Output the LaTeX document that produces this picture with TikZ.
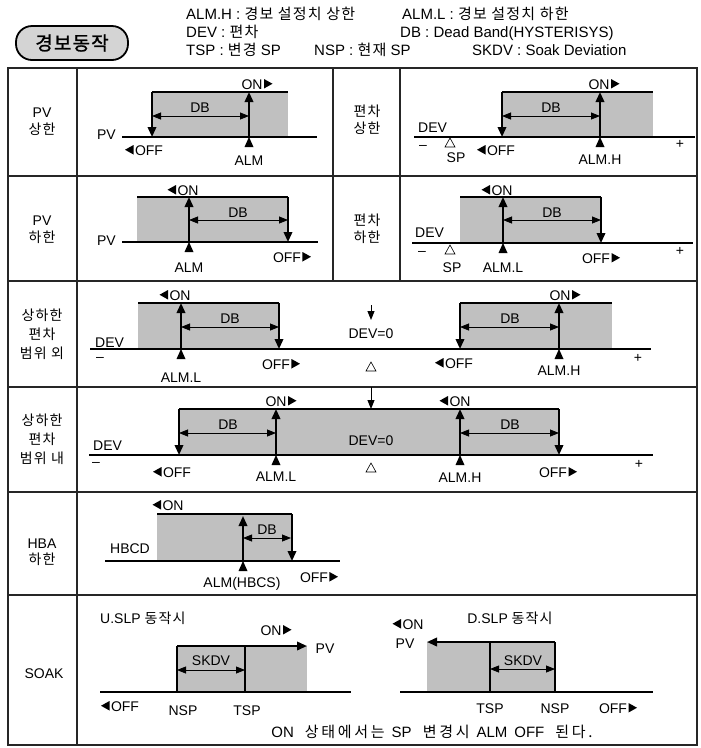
\documentclass[tikz,border=0pt]{standalone}
\usepackage{fontspec}
\setmainfont{Liberation Sans}
\newfontfamily\kr{Noto Sans CJK KR}[LetterSpace=8]
\newfontfamily\krw{Noto Sans CJK KR}[LetterSpace=18]
\newfontfamily\krb{Noto Sans CJK KR}[FakeBold=1.2,LetterSpace=6]
\usetikzlibrary{arrows.meta}
\definecolor{gfill}{RGB}{192,192,192}
\definecolor{pillfill}{RGB}{212,212,212}
\newcommand\myR{\tikz[x=1pt,y=1pt,baseline=0pt]\fill (0,0.5)--(0,10)--(8.5,5.25)--cycle;}
\newcommand\myL{\tikz[x=1pt,y=1pt,baseline=0pt]\fill (8.5,0.5)--(8.5,10)--(0,5.25)--cycle;}
\newcommand\myT{\tikz[x=1pt,y=1pt,baseline=0pt]\draw[line width=0.6pt,line join=miter] (0,0)--(10,0)--(5,9)--cycle;}
\newcommand\mk[2]{\fill (#1,#2) -- ++(-4.5,10) -- ++(9,0) -- cycle;}
\begin{document}
\begin{tikzpicture}[x=1pt,y=-1pt,
  t/.style={inner sep=0pt, text height=10pt, text depth=0pt, font=\fontsize{14}{15}\selectfont},
  h/.style={inner sep=0pt, text height=10pt, text depth=0pt, anchor=west, font=\fontsize{15}{16}\selectfont},
  grid/.style={line width=1.3pt, black!85},
  topl/.style={line width=2pt},
  vd/.style={line width=2pt, -{Triangle[length=10pt,width=8.5pt]}},
  base/.style={line width=1.2pt},
  tbase/.style={line width=2.4pt},
  db/.style={line width=0.8pt, {Triangle[length=9pt,width=7pt]}-{Triangle[length=9pt,width=7pt]}},
  sarr/.style={line width=1pt, -{Triangle[length=9pt,width=7pt]}}]
\useasboundingbox (0,0) rectangle (701,748);
% header
\node[draw, line width=1.8pt, fill=pillfill, rounded corners=16pt, minimum width=112pt, minimum height=34pt, inner sep=0pt, font=\krb\fontsize{19}{19}\selectfont] (pill) at (72,43) {경보동작};
\node[h] (h1a) at (186,14) {ALM.H : {\kr 경보 설정치 상한}};
\node[h] (h1b) at (402,14) {ALM.L : {\kr 경보 설정치 하한}};
\node[h] (h2a) at (186,32) {DEV : {\kr 편차}};
\node[h] (h2b) at (400,32) {DB : Dead Band(HYSTERISYS)};
\node[h] (h3a) at (186,50) {TSP : {\kr 변경} SP};
\node[h] (h3b) at (314,50) {NSP : {\kr 현재} SP};
\node[h] (h3c) at (472,50) {SKDV : Soak Deviation};
% grid
\draw[grid] (8,68) rectangle (697,745);
\draw[grid] (77,68) -- (77,745);
\foreach \yy in {176,281,387,492,595} \draw[grid] (8,\yy) -- (697,\yy);
\draw[grid] (333,68) -- (333,281);
\draw[grid] (400,68) -- (400,281);
% row labels
\node[t] (l1a) at (42,112) {PV};
\node[t] (l1b) at (42,129) {\kr 상한};
\node[t] (l1c) at (367,111) {\kr 편차};
\node[t] (l1d) at (367,128) {\kr 상한};
\node[t] (l2a) at (42,220) {PV};
\node[t] (l2b) at (42,237) {\kr 하한};
\node[t] (l2c) at (367,220) {\kr 편차};
\node[t] (l2d) at (367,237) {\kr 하한};
\node[t] (l3a) at (42,315) {\kr 상하한};
\node[t] (l3b) at (42,334) {\kr 편차};
\node[t] (l3c) at (42,353) {\kr 범위 외};
\node[t] (l4a) at (42,420) {\kr 상하한};
\node[t] (l4b) at (42,439) {\kr 편차};
\node[t] (l4c) at (42,458) {\kr 범위 내};
\node[t] (l5a) at (42,543) {HBA};
\node[t] (l5b) at (42,559) {\kr 하한};
\node[t] (l6a) at (44,673) {SOAK};
% ---- row 1 left
\fill[gfill] (152,92) rectangle (288,137);
\draw[topl] (152,92) -- (288,92);
\draw[base] (122,137) -- (317,137);
\draw[vd] (152,92) -- (152,137);
\draw[vd] (249,137) -- (249,92);
\mk{249}{137}
\draw[db] (152,116) -- (249,116);
\node[t] (r1db) at (200,107) {DB};
\node[t,anchor=east] (r1pv) at (116,134) {PV};
\node[t] (r1off) at (144,150) {\myL\hspace{1.5pt}OFF};
\node[t] (r1alm) at (249,160) {ALM};
\node[t] (r1on) at (257,84) {ON\hspace{1.5pt}\myR};
% ---- row 1 right
\fill[gfill] (502,92) rectangle (653,137);
\draw[topl] (502,92) -- (653,92);
\draw[base] (414,137) -- (695,137);
\draw[vd] (502,92) -- (502,137);
\draw[vd] (600,137) -- (600,92);
\mk{600}{137}
\draw[db] (502,116) -- (600,116);
\node[t] (q1db) at (551,107) {DB};
\node[t,anchor=west] (q1dev) at (418,127) {DEV};
\node[t] (q1m) at (423,144) {–};
\node[t] (q1tri) at (450,142) {\myT};
\node[t] (q1sp) at (456,157) {SP};
\node[t] (q1off) at (496,150) {\myL\hspace{1.5pt}OFF};
\node[t] (q1alm) at (600,159) {ALM.H};
\node[t] (q1p) at (680,143) {+};
\node[t] (q1on) at (604,84) {ON\hspace{1.5pt}\myR};
% ---- row 2 left
\fill[gfill] (137,197) rectangle (288,242);
\draw[topl] (137,197) -- (288,197);
\draw[base] (122,242) -- (318,242);
\draw[vd] (189,242) -- (189,197);
\mk{189}{242}
\draw[vd] (288,197) -- (288,242);
\draw[db] (189,220) -- (288,220);
\node[t] (r2db) at (238,212) {DB};
\node[t] (r2on) at (183,190) {\myL\hspace{1.5pt}ON};
\node[t] (r2alm) at (189,267) {ALM};
\node[t] (r2off) at (292,257) {OFF\hspace{1.5pt}\myR};
\node[t,anchor=east] (r2pv) at (116,240) {PV};
% ---- row 2 right
\fill[gfill] (460,197) rectangle (601,243);
\draw[topl] (460,197) -- (601,197);
\draw[base] (412,243) -- (693,243);
\draw[tbase] (460,243) -- (650,243);
\draw[vd] (503,243) -- (503,197);
\mk{503}{243}
\draw[vd] (601,197) -- (601,243);
\draw[db] (503,220) -- (601,220);
\node[t] (q2db) at (552,212) {DB};
\node[t] (q2on) at (497,190) {\myL\hspace{1.5pt}ON};
\node[t,anchor=west] (q2dev) at (415,232) {DEV};
\node[t] (q2m) at (422,250) {–};
\node[t] (q2tri) at (450,249) {\myT};
\node[t] (q2sp) at (452,267) {SP};
\node[t] (q2alm) at (503,267) {ALM.L};
\node[t] (q2off) at (601,258) {OFF\hspace{1.5pt}\myR};
\node[t] (q2p) at (680,250) {+};
% ---- row 3
\fill[gfill] (138,303) rectangle (279,349);
\fill[gfill] (460,303) rectangle (612,349);
\draw[topl] (138,303) -- (279,303);
\draw[topl] (460,303) -- (612,303);
\draw[base] (90,349) -- (651,349);
\draw[tbase] (90,349) -- (328,349);
\draw[tbase] (412,349) -- (651,349);
\draw[vd] (181,349) -- (181,303);
\mk{181}{349}
\draw[vd] (279,303) -- (279,349);
\draw[vd] (460,303) -- (460,349);
\draw[vd] (559,349) -- (559,303);
\mk{559}{349}
\draw[db] (181,327) -- (279,327);
\draw[db] (460,327) -- (559,327);
\draw[sarr] (371,305) -- (371,320);
\node[t] (r3db1) at (230,318) {DB};
\node[t] (r3db2) at (510,318) {DB};
\node[t] (r3on1) at (175,295) {\myL\hspace{1.5pt}ON};
\node[t,anchor=west] (r3dev) at (95,342) {DEV};
\node[t] (r3m) at (100,356) {–};
\node[t] (r3alml) at (181,377) {ALM.L};
\node[t] (r3off1) at (281,364) {OFF\hspace{1.5pt}\myR};
\node[t] (r3zero) at (371,333) {DEV=0};
\node[t] (r3tri) at (371,366) {\myT};
\node[t] (r3off2) at (454,363) {\myL\hspace{1.5pt}OFF};
\node[t] (r3almh) at (559,370) {ALM.H};
\node[t] (r3p) at (638,357) {+};
\node[t] (r3on2) at (565,295) {ON\hspace{1.5pt}\myR};
% ---- row 4
\fill[gfill] (179,409) rectangle (559,455);
\draw[topl] (179,409) -- (559,409);
\draw[base] (89,455) -- (653,455);
\draw[tbase] (130,455) -- (608,455);
\draw[vd] (179,409) -- (179,455);
\draw[vd] (276,455) -- (276,409);
\mk{276}{455}
\draw[vd] (460,455) -- (460,409);
\mk{460}{455}
\draw[vd] (559,409) -- (559,455);
\draw[db] (179,433) -- (276,433);
\draw[db] (460,433) -- (559,433);
\draw[sarr] (371,387) -- (371,409);
\node[t] (r4db1) at (228,424) {DB};
\node[t] (r4db2) at (510,424) {DB};
\node[t] (r4on1) at (281,401) {ON\hspace{1.5pt}\myR};
\node[t] (r4on2) at (455,401) {\myL\hspace{1.5pt}ON};
\node[t] (r4zero) at (371,440) {DEV=0};
\node[t,anchor=west] (r4dev) at (93,445) {DEV};
\node[t] (r4m) at (96,461) {–};
\node[t] (r4off1) at (172,472) {\myL\hspace{1.5pt}OFF};
\node[t] (r4alml) at (276,476) {ALM.L};
\node[t] (r4tri) at (371,467) {\myT};
\node[t] (r4almh) at (460,477) {ALM.H};
\node[t] (r4off2) at (558,472) {OFF\hspace{1.5pt}\myR};
\node[t] (r4p) at (639,463) {+};
% ---- row 5
\fill[gfill] (157,514) rectangle (292,561);
\draw[topl] (157,514) -- (292,514);
\draw[base] (105,561) -- (340,561);
\draw[tbase] (105,561) -- (197,561);
\draw[vd] (243,561) -- (243,516);
\mk{243}{561}
\draw[vd] (292,514) -- (292,561);
\draw[db] (243,538) -- (291,538);
\node[t] (r5db) at (267,529) {DB};
\node[t] (r5on) at (168,505) {\myL\hspace{1.5pt}ON};
\node[t] (r5hbcd) at (130,548) {HBCD};
\node[t] (r5alm) at (242,582) {ALM(HBCS)};
\node[t] (r5off) at (319,577) {OFF\hspace{1.5pt}\myR};
% ---- row 6 left
\fill[gfill] (177,646) rectangle (307,692);
\draw[vd] (177,646) -- (307,646);
\draw[topl] (177,646) -- (177,692);
\draw[topl] (245,646) -- (245,692);
\draw[base] (100,692) -- (351,692);
\draw[db] (177,670) -- (245,670);
\node[t,anchor=west] (r6u) at (100,618) {U.SLP {\kr 동작시}};
\node[t] (r6on) at (276,630) {ON\hspace{1.5pt}\myR};
\node[t] (r6pv) at (325,648) {PV};
\node[t] (r6sk) at (211,660) {SKDV};
\node[t] (r6off) at (120,706) {\myL\hspace{1.5pt}OFF};
\node[t] (r6nsp) at (183,710) {NSP};
\node[t] (r6tsp) at (247,710) {TSP};
\node[t,font=\fontsize{15}{16}\selectfont] (r6note) at (432,732) {ON\hspace{11pt}{\krw 상태에서는}\hspace{7pt}SP\hspace{11pt}{\krw 변경시}\hspace{7pt}ALM\hspace{7pt}OFF\hspace{11pt}{\krw 된다.}};
% ---- row 6 right
\fill[gfill] (427,642) rectangle (555,692);
\draw[vd] (555,642) -- (427,642);
\draw[topl] (555,642) -- (555,692);
\draw[topl] (490,642) -- (490,692);
\draw[base] (400,692) -- (653,692);
\draw[db] (490,669) -- (555,669);
\node[t] (s6d) at (510,618) {D.SLP {\kr 동작시}};
\node[t] (s6on) at (408,624) {\myL\hspace{1.5pt}ON};
\node[t] (s6pv) at (405,643) {PV};
\node[t] (s6sk) at (523,660) {SKDV};
\node[t] (s6tsp) at (490,708) {TSP};
\node[t] (s6nsp) at (555,708) {NSP};
\node[t] (s6off) at (618,708) {OFF\hspace{1.5pt}\myR};
\end{tikzpicture}
\end{document}
